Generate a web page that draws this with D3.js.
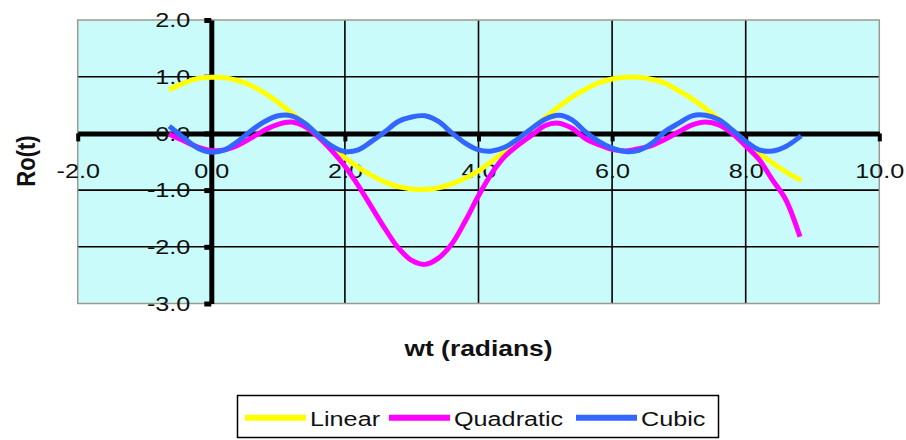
<!DOCTYPE html>
<html>
<head>
<meta charset="utf-8">
<script src="https://cdn.jsdelivr.net/npm/d3@7"></script>
<style>
  html, body { margin: 0; padding: 0; background: #fff; }
  svg { display: block; }
</style>
</head>
<body>
<svg id="chart" width="906" height="440"></svg>
<script>
// Sample positions (radians) and the three responses
const wt = [-0.6, -0.4, -0.2, 0.0, 0.2, 0.4, 0.6, 0.8, 1.0, 1.2, 1.4, 1.6, 1.8, 2.0, 2.2, 2.4,
            2.6, 2.8, 3.0, 3.2, 3.4, 3.6, 3.8, 4.0, 4.2, 4.4, 4.6, 4.8, 5.0, 5.2, 5.4, 5.6,
            5.8, 6.0, 6.2, 6.4, 6.6, 6.8, 7.0, 7.2, 7.4, 7.6, 7.8, 8.0, 8.2, 8.4, 8.6, 8.8];

const linear = [0.79, 0.89, 0.97, 0.99, 0.98, 0.93, 0.84, 0.71, 0.55, 0.36, 0.18, -0.03, -0.23, -0.43, -0.60, -0.74,
                -0.86, -0.94, -0.98, -0.99, -0.96, -0.89, -0.79, -0.66, -0.49, -0.31, -0.11, 0.09, 0.28, 0.47, 0.64, 0.78,
                0.89, 0.96, 0.99, 0.99, 0.95, 0.88, 0.75, 0.61, 0.44, 0.25, 0.05, -0.15, -0.35, -0.52, -0.68, -0.81];

const quadratic = [-0.03, -0.14, -0.24, -0.30, -0.29, -0.21, -0.08, 0.06, 0.16, 0.20, 0.12, -0.06, -0.30, -0.58, -0.92, -1.30,
                   -1.68, -2.02, -2.24, -2.31, -2.20, -1.95, -1.55, -1.10, -0.70, -0.40, -0.20, -0.03, 0.14, 0.18, 0.09, -0.09,
                   -0.20, -0.28, -0.31, -0.27, -0.21, -0.10, 0.03, 0.15, 0.20, 0.15, 0.00, -0.22, -0.46, -0.82, -1.17, -1.78];

const cubic = [0.10, -0.09, -0.26, -0.33, -0.29, -0.14, 0.05, 0.21, 0.31, 0.31, 0.18, -0.03, -0.22, -0.32, -0.29, -0.14,
               0.03, 0.21, 0.29, 0.31, 0.21, 0.01, -0.17, -0.29, -0.31, -0.24, -0.09, 0.09, 0.25, 0.32, 0.24, 0.03,
               -0.14, -0.26, -0.32, -0.30, -0.17, 0.04, 0.18, 0.31, 0.32, 0.24, 0.06, -0.14, -0.29, -0.31, -0.23, -0.07];

const seriesNames = ["Linear", "Quadratic", "Cubic"];
const seriesColors = ["#ffff00", "#ff00ff", "#3366ff"];

const xTicks = [-2, 0, 2, 4, 6, 8, 10];
const yTicks = [-3, -2, -1, 0, 1, 2];

const FONT = "'Liberation Sans', Arial, sans-serif";
const SX = 1.2; // lettering is drawn slightly wide

const svg = d3.select("#chart");
svg.append("rect").attr("width", 906).attr("height", 440).attr("fill", "#fff");

const x = d3.scaleLinear().domain([-2, 10]).range([77.7, 879.3]);
const y = d3.scaleLinear().domain([-3, 2]).range([303.5, 20]);

// plot area background
svg.append("rect")
  .attr("x", x(-2)).attr("y", y(2))
  .attr("width", x(10) - x(-2)).attr("height", y(-3) - y(2))
  .attr("fill", "#c9fbfb");

// interior gridlines
const grid = svg.append("g").attr("stroke", "#000").attr("stroke-width", 1.6);
grid.selectAll("line.gx").data(xTicks.filter(d => d > -2 && d < 10 && d !== 0))
  .join("line").attr("class", "gx")
  .attr("x1", d => x(d)).attr("x2", d => x(d))
  .attr("y1", y(2)).attr("y2", y(-3));
grid.selectAll("line.gy").data(yTicks.filter(d => d > -3 && d < 2 && d !== 0))
  .join("line").attr("class", "gy")
  .attr("x1", x(-2)).attr("x2", x(10))
  .attr("y1", d => y(d)).attr("y2", d => y(d));

// plot area frame
svg.append("rect")
  .attr("x", x(-2)).attr("y", y(2))
  .attr("width", x(10) - x(-2)).attr("height", y(-3) - y(2))
  .attr("fill", "none").attr("stroke", "#9c9a8c").attr("stroke-width", 1.5);

const fmt = d => d.toFixed(1);

// x axis crossing at Ro = 0
const gx = svg.append("g")
  .attr("transform", `translate(0,${y(0)})`)
  .call(d3.axisBottom(x).tickValues(xTicks).tickSize(8).tickSizeOuter(0).tickFormat(fmt));
gx.select(".domain").attr("stroke", "#000").attr("stroke-width", 5);
gx.selectAll(".tick line").attr("stroke", "#000").attr("stroke-width", 4);
gx.selectAll(".tick text")
  .attr("y", 0).attr("dy", null)
  .attr("transform", `translate(0,44.5) scale(${SX},1)`)
  .attr("font-family", FONT).attr("font-size", 21).attr("fill", "#111");

// y axis crossing at wt = 0
const gy = svg.append("g")
  .attr("transform", `translate(${x(0)},0)`)
  .call(d3.axisLeft(y).tickValues(yTicks).tickSize(7).tickSizeOuter(0).tickFormat(fmt));
gy.select(".domain").attr("stroke", "#000").attr("stroke-width", 5);
gy.selectAll(".tick line").attr("stroke", "#000").attr("stroke-width", 5);
gy.selectAll(".tick text")
  .attr("x", 0)
  .attr("transform", `translate(-21,0) scale(${SX},1)`)
  .attr("font-family", FONT).attr("font-size", 21).attr("fill", "#111");
gx.attr("font-family", FONT);
gy.attr("font-family", FONT);

// series
const seriesData = [linear, quadratic, cubic];
const line = d3.line()
  .x((d, i) => x(wt[i]))
  .y(d => y(d))
  .curve(d3.curveCatmullRom);

svg.append("g").selectAll("path")
  .data(seriesData)
  .join("path")
  .attr("d", d => line(d))
  .attr("fill", "none")
  .attr("stroke", (d, i) => seriesColors[i])
  .attr("stroke-width", 5)
  .attr("stroke-linejoin", "round")
  .attr("stroke-linecap", "square");

// axis titles
svg.append("text")
  .attr("transform", `translate(${(x(-2) + x(10)) / 2},356) scale(${SX},1)`)
  .attr("text-anchor", "middle")
  .attr("font-family", FONT).attr("font-weight", "bold").attr("font-size", 22)
  .attr("fill", "#111")
  .text("wt (radians)");

svg.append("text")
  .attr("transform", `translate(35,161) scale(${SX},1) rotate(-90)`)
  .attr("text-anchor", "middle")
  .attr("font-family", FONT).attr("font-weight", "bold").attr("font-size", 22)
  .attr("fill", "#111")
  .text("Ro(t)");

// legend
const legend = svg.append("g");
legend.append("rect")
  .attr("x", 237.5).attr("y", 395.5).attr("width", 481).attr("height", 42)
  .attr("fill", "#fff").attr("stroke", "#000").attr("stroke-width", 1.5);
const legendX = [245, 389, 576];
const items = legend.selectAll("g.item").data(seriesNames).join("g")
  .attr("class", "item")
  .attr("transform", (d, i) => `translate(${legendX[i]},0)`);
items.append("line")
  .attr("x1", 0).attr("x2", 61).attr("y1", 417.7).attr("y2", 417.7)
  .attr("stroke", (d, i) => seriesColors[i]).attr("stroke-width", 6);
items.append("text")
  .attr("transform", `translate(65,425.5) scale(${SX},1)`)
  .attr("font-family", FONT).attr("font-size", 21).attr("fill", "#111")
  .text(d => d);
</script>
</body>
</html>
